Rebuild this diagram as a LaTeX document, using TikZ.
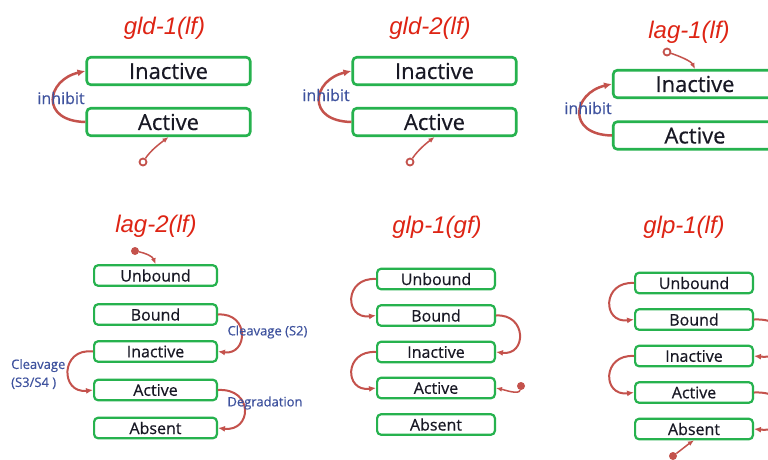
\documentclass[tikz,border=0pt]{standalone}
\usepackage{fontspec}
\setmainfont{Open Sans}
\newfontface\boxfont{Open Sans}[FakeBold=0.6]
\newfontface\lblfont{Open Sans}[FakeBold=0.4]
\newfontfamily\ttlfont{Liberation Sans}
\usetikzlibrary{arrows.meta}
\definecolor{boxgreen}{RGB}{38,178,78}
\definecolor{arrowred}{RGB}{196,82,76}
\definecolor{titlered}{RGB}{222,36,20}
\definecolor{lblblue}{RGB}{62,82,158}
\definecolor{boxtext}{RGB}{24,24,36}
\tikzset{
  stbox/.style={draw=boxgreen, line width=2.6pt, rounded corners=4pt, fill=white,
    text=boxtext, inner sep=0pt},
  bigbox/.style={stbox, minimum width=163.5pt, minimum height=27.5pt,
    font=\boxfont\fontsize{22}{22}\selectfont},
  smallbox/.style={stbox, line width=2.2pt, minimum width=117.8pt, minimum height=20.5pt,
    font=\boxfont\fontsize{16}{16}\selectfont},
  lagbox/.style={smallbox, minimum width=122.8pt},
  ttl/.style={text=titlered, font=\ttlfont\itshape\fontsize{24}{24}\selectfont,
    anchor=base, inner sep=0pt},
  inh/.style={draw=arrowred, line width=2.5pt, -{Latex[length=8pt,width=7pt]}},
  trans/.style={draw=arrowred, line width=2pt, -{Latex[length=7pt,width=6pt]}},
  thin/.style={draw=arrowred, line width=1.5pt, -{Latex[length=6pt,width=5pt]}},
  ring/.style={circle, draw=arrowred, line width=1.8pt, minimum size=7pt, inner sep=0pt},
  dot/.style={circle, fill=arrowred, minimum size=8pt, inner sep=0pt},
  lbl/.style={text=lblblue, inner sep=0pt, font=\lblfont\fontsize{16}{16}\selectfont},
  slbl/.style={text=lblblue, inner sep=0pt, font=\lblfont\fontsize{13}{18}\selectfont},
}
\begin{document}
\begin{tikzpicture}[x=1pt,y=-1pt]
\useasboundingbox (0,0) rectangle (768,459);
\clip (0,0) rectangle (768,459);
\fill[white] (0,0) rectangle (768,459);

% ---------- top row ----------
\node[ttl] (t1) at (164.5,34) {gld-1(lf)};
\node[ttl] (t2) at (430,34) {gld-2(lf)};
\node[ttl] (t3) at (689,38) {lag-1(lf)};

\node[bigbox] (i1) at (168.5,71) {Inactive};
\node[bigbox] (a1) at (168.5,122) {Active};
\node[bigbox] (i2) at (434.5,71) {Inactive};
\node[bigbox] (a2) at (434.5,122) {Active};
\node[bigbox] (i3) at (695,84) {Inactive};
\node[bigbox] (a3) at (695,135.5) {Active};

\draw[inh] (a1.west) .. controls +(-46,-1) and +(-39,9) .. (i1.west);
\draw[inh] (a2.west) .. controls +(-46,-1) and +(-39,9) .. (i2.west);
\draw[inh] (a3.west) .. controls +(-46,-1) and +(-39,9) .. (i3.west);

\node[lbl] (l1) at (61,98) {inhibit};
\node[lbl] (l2) at (326,95) {inhibit};
\node[lbl] (l3) at (588,108) {inhibit};

\node[ring] (o1) at (143,162) {};
\node[ring] (o2) at (410,162) {};
\node[ring] (o3) at (667,52) {};
\draw[thin] (o1) .. controls +(8,-12) and +(-8,6) .. (a1.south);
\draw[thin] (o2) .. controls +(8,-12) and +(-8,6) .. (a2.south);
\draw[thin] (o3) .. controls +(12,4) and +(-4,-8) .. (i3.north);

% ---------- lag-2(lf) ----------
\node[ttl] (t4) at (156,232) {lag-2(lf)};
\node[lagbox] (u4) at (155.5,275.5) {Unbound};
\node[lagbox] (b4) at (155.5,314.5) {Bound};
\node[lagbox] (i4) at (155.5,351.5) {Inactive};
\node[lagbox] (a4) at (155.5,390) {Active};
\node[lagbox] (ab4) at (155.5,428) {Absent};
\node[dot] (d4) at (135,251) {};
\draw[thin] (d4) .. controls +(10,2) and +(-3,-8) .. (u4.north);
\draw[trans] (b4.east) .. controls +(32,-2) and +(30,4) .. (i4.east);
\draw[trans] (i4.west) .. controls +(-33,-4) and +(-33,4) .. (a4.west);
\draw[trans] (a4.east) .. controls +(36,-2) and +(34,4) .. (ab4.east);
\node[slbl] (c2) at (267.5,332) {Cleavage (S2)};
\node[slbl, anchor=west, align=left] (c34) at (11,374) {Cleavage\\(S3/S4 )};
\node[slbl] (dg) at (265,403) {Degradation};

% ---------- glp-1(gf) ----------
\node[ttl] (t5) at (437,233) {glp-1(gf)};
\node[smallbox] (u5) at (436,279) {Unbound};
\node[smallbox] (b5) at (436,315.5) {Bound};
\node[smallbox] (i5) at (436,352) {Inactive};
\node[smallbox] (a5) at (436,388) {Active};
\node[smallbox] (ab5) at (436,424.5) {Absent};
\draw[trans] (u5.west) .. controls +(-32,-2) and +(-32,4) .. (b5.west);
\draw[trans] (b5.east) .. controls +(31,-2) and +(31,4) .. (i5.east);
\draw[trans] (i5.west) .. controls +(-32,-2) and +(-32,4) .. (a5.west);
\node[dot] (d5) at (521,386) {};
\draw[thin] (d5) .. controls +(-2,9) and +(9,2) .. (a5.east);

% ---------- glp-1(lf) ----------
\node[ttl] (t6) at (684,233) {glp-1(lf)};
\node[smallbox] (u6) at (694,283) {Unbound};
\node[smallbox] (b6) at (694,319.5) {Bound};
\node[smallbox] (i6) at (694,356) {Inactive};
\node[smallbox] (a6) at (694,392.5) {Active};
\node[smallbox] (ab6) at (694,429) {Absent};
\draw[trans] (u6.west) .. controls +(-32,-2) and +(-32,4) .. (b6.west);
\draw[trans] (i6.west) .. controls +(-32,-2) and +(-32,4) .. (a6.west);
\draw[trans] (b6.east) .. controls +(42,-2) and +(42,4) .. (i6.east);
\draw[trans] (a6.east) .. controls +(42,-2) and +(42,4) .. (ab6.east);
\node[dot] (d6) at (673,456) {};
\draw[thin] (d6) .. controls +(8,-6) and +(-6,4) .. (ab6.south);
\end{tikzpicture}
\end{document}
